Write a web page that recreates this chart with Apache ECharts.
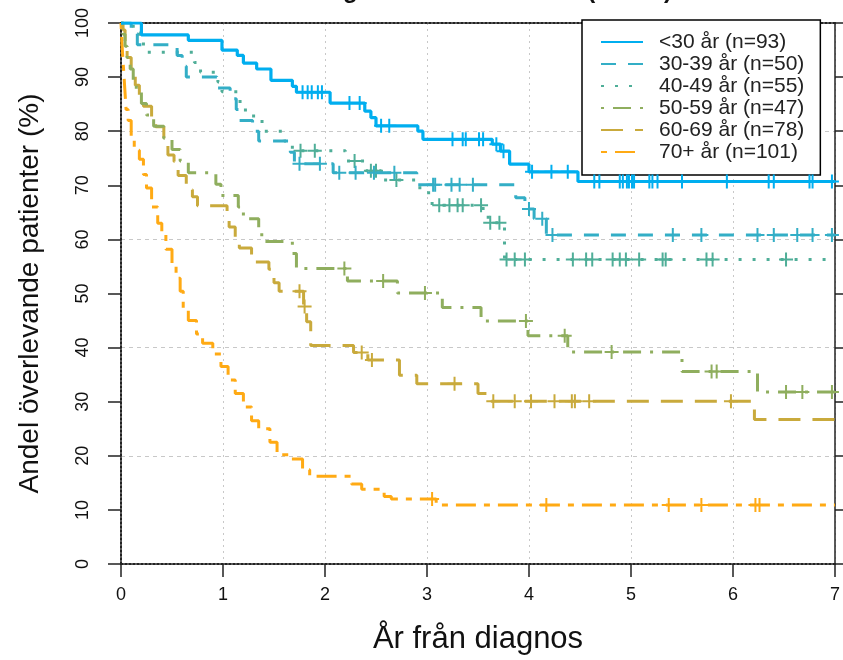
<!DOCTYPE html>
<html>
<head>
<meta charset="utf-8">
<script src="https://cdn.jsdelivr.net/npm/echarts@6/dist/echarts.min.js"></script>
<style>
html, body { margin: 0; padding: 0; background: #fff; }
#box { width: 843px; height: 660px; }
</style>
</head>
<body>
<div id="box"></div>
<script>
// gruppnamn (legend)
var groups = ['<30 år (n=93)', '30-39 år (n=50)', '40-49 år (n=55)', '50-59 år (n=47)', '60-69 år (n=78)', '70+ år (n=101)'];
var xTicks = [0, 1, 2, 3, 4, 5, 6, 7];

// Kaplan-Meier steg: [år, andel %]
var stepsU30 = [[0,100],[0.2,97.8],[0.66,96.8],[0.99,95.0],[1.14,94.0],[1.2,92.6],[1.33,91.5],[1.47,89.4],[1.68,88.3],[1.72,87.2],[2.05,85.2],[2.39,83.7],[2.45,82.5],[2.5,81.0],[2.91,80.0],[2.96,78.5],[3.64,77.6],[3.72,76.3],[3.81,73.9],[4.0,72.5],[4.48,70.7]];
var steps3039 = [[0,100],[0.1,98],[0.16,96],[0.55,94],[0.6,92],[0.64,90],[0.94,88],[1.07,86],[1.13,84],[1.16,82],[1.29,80],[1.35,78.2],[1.66,76.1],[1.7,74.0],[2.08,72.3],[2.9,70.1],[3.87,67.7],[3.96,65.6],[4.05,63.8],[4.17,60.8]];
var steps4049 = [[0,100],[0.12,98.2],[0.18,96.4],[0.22,94.6],[0.72,92.7],[0.78,90.9],[0.95,89.1],[0.99,87.3],[1.15,85.5],[1.22,83.6],[1.3,81.8],[1.4,80.0],[1.6,78.2],[1.68,76.4],[2.2,74.5],[2.4,72.7],[2.55,71.0],[2.93,68.6],[3.05,66.3],[3.55,64.6],[3.6,63.1],[3.76,56.3]];
var steps5059 = [[0,100],[0.02,97.9],[0.04,95.7],[0.06,93.6],[0.09,91.5],[0.12,89.4],[0.15,87.2],[0.2,85.1],[0.25,83.0],[0.32,80.9],[0.42,78.7],[0.5,76.6],[0.58,74.5],[0.66,72.3],[0.93,70.2],[0.98,68.1],[1.15,66.0],[1.2,63.8],[1.35,61.7],[1.38,59.6],[1.68,57.4],[1.72,54.6],[2.22,52.3],[2.71,50.1],[3.15,47.4],[3.53,44.9],[3.99,42.2],[4.38,39.2],[5.5,35.6],[6.24,31.8]];
var steps6069 = [[0,100],[0.02,98.7],[0.04,96.2],[0.06,93.6],[0.1,91.0],[0.14,88.5],[0.18,85.9],[0.22,84.6],[0.3,82.0],[0.34,80.8],[0.42,78.2],[0.46,75.6],[0.52,74.4],[0.56,71.8],[0.64,69.2],[0.7,67.9],[0.75,66.2],[1.04,63.6],[1.06,62.3],[1.12,59.7],[1.16,58.4],[1.28,57.1],[1.32,55.8],[1.45,54.5],[1.5,52.0],[1.55,50.4],[1.79,47.6],[1.82,44.8],[1.86,40.4],[2.28,39.1],[2.42,37.7],[2.73,34.9],[2.9,33.3],[3.5,31.5],[3.63,30.1],[6.21,26.7]];
var steps70 = [[0,100],[0.01,96],[0.02,93],[0.03,90],[0.04,87],[0.05,84],[0.07,82],[0.1,79],[0.13,76.5],[0.18,74.8],[0.22,72],[0.25,69.5],[0.3,66],[0.36,63],[0.4,61],[0.44,58.2],[0.5,55],[0.54,52.8],[0.58,50.4],[0.61,47],[0.66,45],[0.74,42.5],[0.8,40.8],[0.9,38.8],[0.98,36.5],[1.05,34],[1.12,31.5],[1.2,29.0],[1.28,26.5],[1.35,25],[1.46,22.5],[1.53,20.2],[1.65,19.4],[1.78,17.4],[1.85,16.2],[2.26,14.8],[2.36,13.8],[2.58,12.5],[2.65,12.0],[3.09,10.9]];

// censurerade tider (år)
var censU30 = [1.78,1.83,1.87,1.93,1.97,2.24,2.34,2.55,2.63,3.25,3.35,3.38,3.51,3.55,3.68,3.75,4.03,4.22,4.38,4.64,4.69,4.89,4.92,4.96,4.98,5.01,5.03,5.18,5.21,5.26,5.5,5.94,6.35,6.4,6.75,6.78,6.97];
var cens3039 = [1.75,1.95,2.14,2.3,2.48,2.68,3.06,3.08,3.24,3.32,3.45,4.0,4.13,4.23,5.41,5.69,6.24,6.4,6.63,6.78,6.97];
var cens4049 = [1.76,1.9,2.29,2.45,2.5,2.7,3.12,3.22,3.3,3.35,3.53,3.62,3.71,3.78,3.86,3.96,4.43,4.56,4.62,4.82,4.89,4.95,5.08,5.31,5.34,5.74,5.8,6.52];
var cens5059 = [2.19,2.57,2.98,3.97,4.35,4.81,5.79,5.84,6.52,6.68,6.97];
var cens6069 = [1.75,1.8,2.36,2.46,3.27,3.65,3.86,4.02,4.25,4.42,4.45,4.59,5.98];
var cens70 = [3.05,4.17,5.37,5.69,6.22,6.26];

var allSteps = [stepsU30, steps3039, steps4049, steps5059, steps6069, steps70];
var allCens = [censU30, cens3039, cens4049, cens5059, cens6069, cens70];

var colors = ['#00aeef', '#33aec6', '#4fae98', '#8fae5e', '#c9aa3c', '#ffaa14'];
var dashes = ['solid', [15, 12], [3, 11], [3, 9, 18, 9], [22, 12], [6, 8, 20, 8]];
var font = 'Liberation Sans, Arial, sans-serif';
var plus = 'path://M6,0 H8 V14 H6 Z M0,6 H14 V8 H0 Z';

function valueAt(steps, t) {
    var v = steps[0][1];
    for (var i = 0; i < steps.length; i++) {
        if (steps[i][0] <= t) v = steps[i][1];
    }
    return v;
}

var series = [];
allSteps.forEach(function (steps, i) {
    var data = steps.slice();
    data.push([7, steps[steps.length - 1][1]]);
    series.push({
        name: groups[i],
        type: 'line',
        step: 'end',
        symbol: 'none',
        data: data,
        z: 10 - i,
        lineStyle: { color: colors[i], width: i === 0 ? 3.2 : 3, type: dashes[i] },
        itemStyle: { color: colors[i] }
    });
});
allCens.forEach(function (cens, i) {
    series.push({
        name: 'cens' + i,
        type: 'scatter',
        symbol: plus,
        symbolSize: 14,
        data: cens.map(function (t) { return [t, valueAt(allSteps[i], t)]; }),
        z: 10 - i,
        itemStyle: { color: colors[i], opacity: 1 }
    });
});

var myChart = echarts.init(document.getElementById('box'));
var option = {
    animation: false,
    title: {
        text: 'ALL registrerade 2007-2016 (n=424)',
        left: 262,
        top: -26,
        textStyle: { fontSize: 24, fontWeight: 'bold', color: '#111', fontFamily: font }
    },
    legend: {
        data: groups,
        orient: 'vertical',
        left: 582,
        top: 20,
        padding: [11, 16, 12, 18],
        itemWidth: 42,
        itemHeight: 14,
        itemGap: 0,
        itemStyle: { opacity: 0 },
        backgroundColor: '#fff',
        borderColor: '#000',
        borderWidth: 1.5,
        textStyle: { fontSize: 21, lineHeight: 22, color: '#222', fontFamily: font, padding: [0, 0, 0, 11] }
    },
    grid: { left: 121, right: 7, top: 23, bottom: 93 },
    xAxis: [
        {
            type: 'value', min: 0, max: 7, interval: 1, position: 'bottom',
            name: 'År från diagnos', nameLocation: 'middle', nameGap: 60,
            nameTextStyle: { fontSize: 31, color: '#111', fontFamily: font },
            axisLine: { show: true, onZero: false, lineStyle: { color: '#222', type: 'dotted', width: 2 } },
            axisTick: { show: true, length: 13, lineStyle: { color: '#222', width: 1.5 } },
            axisLabel: { margin: 22, fontSize: 18, color: '#111', fontFamily: font,
                formatter: function (v) { return xTicks.indexOf(v) >= 0 ? String(v) : ''; } },
            splitLine: { show: true, lineStyle: { color: '#c8c8c8', type: [2, 4], width: 1 } }
        },
        {
            type: 'value', min: 0, max: 7, position: 'top',
            axisLine: { show: true, onZero: false, lineStyle: { color: '#222', type: 'dotted', width: 2 } },
            axisTick: { show: false }, axisLabel: { show: false }, splitLine: { show: false }
        }
    ],
    yAxis: [
        {
            type: 'value', min: 0, max: 100, interval: 10, position: 'left',
            name: 'Andel överlevande patienter (%)', nameLocation: 'middle', nameGap: 77,
            nameTextStyle: { fontSize: 28, color: '#111', fontFamily: font },
            axisLine: { show: true, onZero: false, lineStyle: { color: '#222', type: 'dotted', width: 2 } },
            axisTick: { show: true, length: 13, lineStyle: { color: '#222', width: 1.5 } },
            axisLabel: { rotate: 90, margin: 29, fontSize: 18, color: '#111', fontFamily: font },
            splitLine: { show: false }
        },
        {
            type: 'value', min: 0, max: 100, interval: 10, position: 'right',
            axisLine: { show: true, onZero: false, lineStyle: { color: '#222', width: 1.5 } },
            axisTick: { show: true, length: 9, lineStyle: { color: '#222', width: 1.5 } },
            axisLabel: { show: false }, splitLine: { show: false }
        },
        {
            type: 'value', min: 0, max: 100, interval: 20, position: 'left',
            axisLine: { show: false }, axisTick: { show: false }, axisLabel: { show: false },
            splitLine: { show: true, lineStyle: { color: '#c8c8c8', type: [4, 4], width: 1 } }
        }
    ],
    series: series
};
myChart.setOption(option);
</script>
</body>
</html>
